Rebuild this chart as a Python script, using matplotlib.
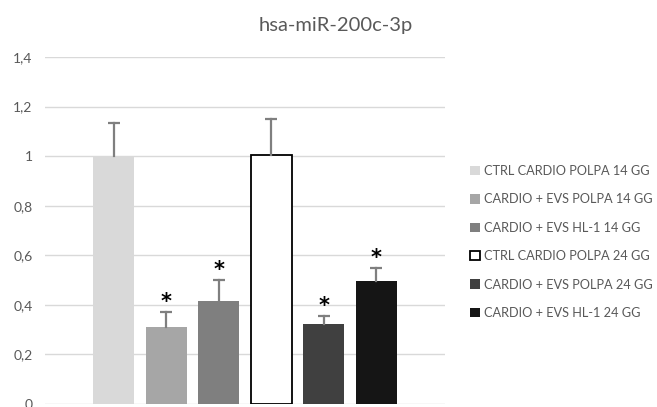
import matplotlib
matplotlib.use('Agg')
import matplotlib.pyplot as plt
import numpy as np

title = 'hsa-miR-200c-3p'
labels = ['CTRL CARDIO POLPA 14 GG', 'CARDIO + EVS POLPA 14 GG', 'CARDIO + EVS HL-1 14 GG',
          'CTRL CARDIO POLPA 24 GG', 'CARDIO + EVS POLPA 24 GG', 'CARDIO + EVS HL-1 24 GG']
values = [1.0, 0.31, 0.417, 1.005, 0.322, 0.498]
errors = [0.135, 0.061, 0.085, 0.145, 0.033, 0.05]
signif = [False, True, True, False, True, True]
yticks = [0, 0.2, 0.4, 0.6, 0.8, 1.0, 1.2, 1.4]
ytick_labels = ['0', '0,2', '0,4', '0,6', '0,8', '1', '1,2', '1,4']

colors = ['#d9d9d9', '#a6a6a6', '#7f7f7f', '#ffffff', '#404040', '#151515']
edges = ['none', 'none', 'none', '#000000', 'none', 'none']

plt.rcParams['font.family'] = ['Lato', 'DejaVu Sans']

fig = plt.figure(figsize=(6.57, 4.07), dpi=100)
ax = fig.add_axes([45 / 657, 3 / 407, 400 / 657, 347 / 407])

x = np.arange(len(values))
for i in range(len(values)):
    ax.bar(x[i], values[i], width=0.78, color=colors[i], edgecolor=edges[i],
           linewidth=1.3, label=labels[i], zorder=3)
    top = values[i] + errors[i]
    # upper error bar only, cap on top
    ax.plot([x[i], x[i]], [values[i], top], color='#7f7f7f', lw=1.6, zorder=4)
    ax.plot(x[i], top, marker='_', markersize=8, mew=1.6, color='#7f7f7f', zorder=4)
    if signif[i]:
        ax.annotate('*', xy=(x[i], top), xytext=(0, 7),
                    textcoords='offset points', ha='center', va='center',
                    fontsize=15, fontweight='bold', color='black', family='DejaVu Sans')

ax.set_xlim(-1.31, 6.31)
ax.set_ylim(0, 1.4)
ax.set_yticks(yticks)
ax.set_yticklabels(ytick_labels)
ax.set_xticks([])
ax.grid(axis='y', color='#d9d9d9', linewidth=1, zorder=0)
for s in ax.spines.values():
    s.set_visible(False)
ax.tick_params(axis='y', length=0, pad=9, labelsize=10, labelcolor='#595959')

fig.text(336 / 657, 1 - 26 / 407, title, ha='center', va='center', fontsize=14.5, color='#595959')

leg = ax.legend(loc='upper left', bbox_to_anchor=(465 / 657, 1 - 160 / 407),
                bbox_transform=fig.transFigure, frameon=False, fontsize=9.2,
                handlelength=0.75, handleheight=0.75, handletextpad=0.35,
                labelspacing=1.28, borderaxespad=0)
for t in leg.get_texts():
    t.set_color('#595959')

fig.savefig('out.png', dpi=100)
